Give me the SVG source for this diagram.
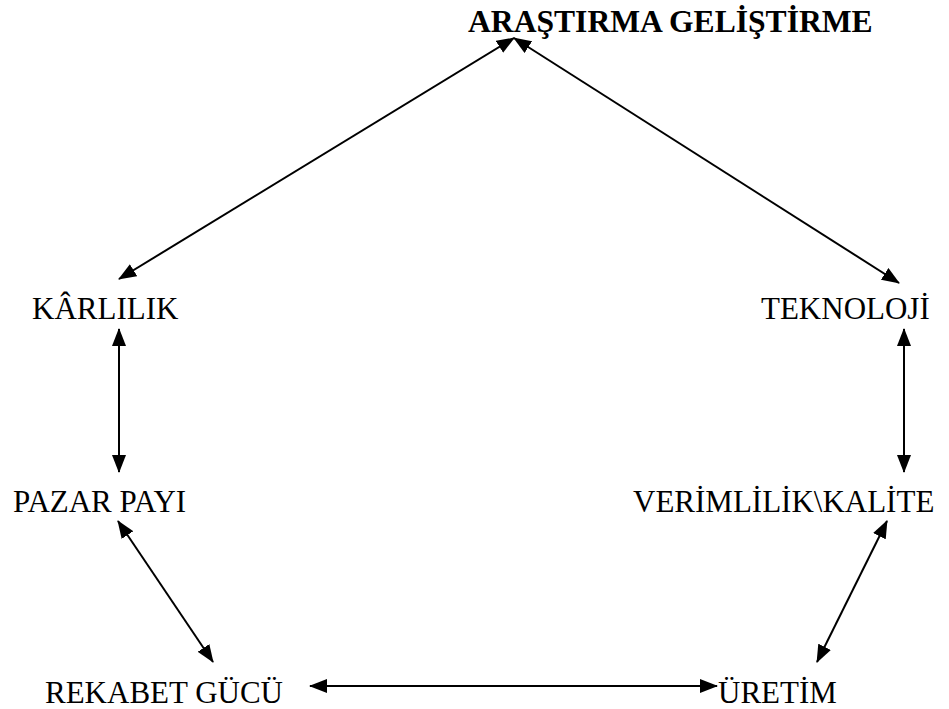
<svg xmlns="http://www.w3.org/2000/svg" width="949" height="709" viewBox="0 0 949 709">
<style>
text{font-family:"Liberation Serif","Times New Roman",serif;font-size:31px;fill:#000}
.b{font-weight:bold;font-size:31.6px}
.c line{stroke:#000;stroke-width:2;marker-start:url(#ah);marker-end:url(#ah)}
</style>
<defs>
<marker id="ah" markerUnits="userSpaceOnUse" markerWidth="18" markerHeight="14" refX="17" refY="7" orient="auto-start-reverse" viewBox="0 0 18 14">
<path d="M0,0 L18,7 L0,14 z" fill="#000"/>
</marker>
</defs>
<rect width="949" height="709" fill="#fff"/>
<g id="arge"><text class="b" x="468" y="32">ARAŞTIRMA GELİŞTİRME</text></g>
<g id="karlilik"><text x="32" y="319">KÂRLILIK</text></g>
<g id="teknoloji"><text x="761" y="319">TEKNOLOJİ</text></g>
<g id="pazar"><text x="13" y="512">PAZAR PAYI</text></g>
<g id="verimlilik"><text x="633" y="512">VERİMLİLİK\KALİTE</text></g>
<g id="rekabet"><text x="45" y="703">REKABET GÜCÜ</text></g>
<g id="uretim"><text x="718" y="703">ÜRETİM</text></g>
<g class="c" id="connectors">
<line x1="119" y1="279" x2="514" y2="38"/>
<line x1="899" y1="283" x2="514" y2="38"/>
<line x1="119" y1="329" x2="119" y2="472"/>
<line x1="904" y1="329" x2="904" y2="472"/>
<line x1="118" y1="521" x2="213" y2="662"/>
<line x1="887" y1="521" x2="817" y2="662"/>
<line x1="310" y1="686" x2="717" y2="686"/>
</g>
</svg>
